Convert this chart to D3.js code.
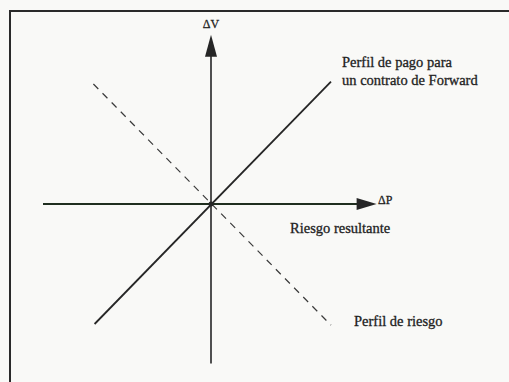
<!DOCTYPE html>
<html>
<head>
<meta charset="utf-8">
<title>Perfil de riesgo</title>
<script src="https://d3js.org/d3.v7.min.js"></script>
<style>
  body { margin: 0; background: #f9f9f7; }
  svg { display: block; }
</style>
</head>
<body>
<div id="my_dataviz"></div>
<script>
// payoff lines, in units of the axes (origin at 0,0)
var forwardX = [-0.97, 1.0];
var forwardY = [-1.0, 1.02];
var riskX = [-0.98, 1.0];
var riskY = [1.0, -1.01];
// axis extents
var axisXExtent = [-1.4, 1.38];
var axisYExtent = [-1.33, 1.41];
var labels = ["Perfil de pago para", "un contrato de Forward", "Riesgo resultante", "Perfil de riesgo"];
var axisNames = ["\u0394V", "\u0394P"];

var width = 509, height = 382;
var ox = 211, oy = 204, unit = 120;

var svg = d3.select("#my_dataviz")
  .append("svg")
    .attr("width", width)
    .attr("height", height);

var x = d3.scaleLinear().domain([0, 1]).range([ox, ox + unit]);
var y = d3.scaleLinear().domain([0, 1]).range([oy, oy - unit]);

// frame
svg.append("rect")
  .attr("x", 10).attr("y", 11)
  .attr("width", 520).attr("height", 400)
  .attr("fill", "none")
  .attr("stroke", "#2a2a2a")
  .attr("stroke-width", 2);

var ink = "#262626";

// horizontal axis
svg.append("line")
  .attr("x1", x(axisXExtent[0])).attr("y1", y(0))
  .attr("x2", x(axisXExtent[1]) - 10).attr("y2", y(0))
  .attr("stroke", "#1f2e1f").attr("stroke-width", 2);
var hx = x(axisXExtent[1]);
svg.append("path")
  .attr("d", "M" + hx + "," + y(0) + "L" + (hx - 20) + "," + (y(0) - 6) + "L" + (hx - 20) + "," + (y(0) + 6) + "Z")
  .attr("fill", ink);

// vertical axis
svg.append("line")
  .attr("x1", x(0)).attr("y1", y(axisYExtent[0]))
  .attr("x2", x(0)).attr("y2", y(axisYExtent[1]) + 10)
  .attr("stroke", ink).attr("stroke-width", 1.6);
var vy = y(axisYExtent[1]);
svg.append("path")
  .attr("d", "M" + x(0) + "," + vy + "L" + (x(0) - 6) + "," + (vy + 22) + "L" + (x(0) + 6) + "," + (vy + 22) + "Z")
  .attr("fill", ink);

// forward payoff (solid)
var line = d3.line()
  .x(function(d) { return x(d[0]); })
  .y(function(d) { return y(d[1]); });

svg.append("path")
  .datum(d3.zip(forwardX, forwardY))
  .attr("fill", "none")
  .attr("stroke", ink)
  .attr("stroke-width", 1.8)
  .attr("d", line);

// risk profile (dashed)
svg.append("path")
  .datum(d3.zip(riskX, riskY))
  .attr("fill", "none")
  .attr("stroke", "#3a3a3a")
  .attr("stroke-width", 1.2)
  .attr("stroke-dasharray", "7,6")
  .attr("d", line);

svg.append("circle")
  .attr("cx", x(0)).attr("cy", y(0)).attr("r", 2.5)
  .attr("fill", ink);

// texts
var txt = svg.append("g")
  .attr("font-family", "'Liberation Serif', 'Times New Roman', serif")
  .attr("font-size", 14.5)
  .attr("fill", "#222")
  .attr("stroke", "#222")
  .attr("stroke-width", 0.3);

txt.append("text").attr("x", x(0)).attr("y", 28).attr("text-anchor", "middle").attr("font-size", 12).text(axisNames[0]);
txt.append("text").attr("x", 378).attr("y", y(0)).attr("font-size", 12).text(axisNames[1]);
txt.append("text").attr("x", 342).attr("y", 67).text(labels[0]);
txt.append("text").attr("x", 342).attr("y", 85).text(labels[1]);
txt.append("text").attr("x", 290).attr("y", 233).text(labels[2]);
txt.append("text").attr("x", 354).attr("y", 326).text(labels[3]);
</script>
</body>
</html>
